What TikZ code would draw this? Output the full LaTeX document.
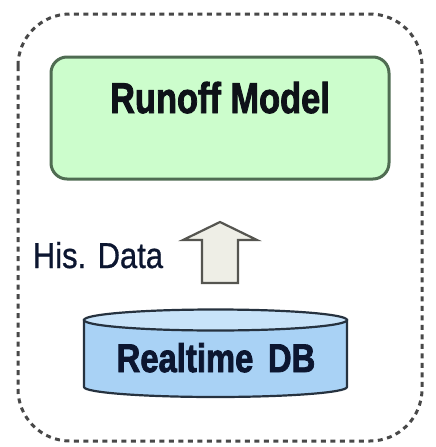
\documentclass[tikz,border=0pt]{standalone}
\usepackage{fontspec}
\setmainfont{Liberation Sans}
\newfontfamily\heavysans[FakeBold=2.2]{Liberation Sans Bold}
\newfontfamily\labelsans[FakeBold=0.8]{Liberation Sans}
\definecolor{modelfill}{HTML}{CCFDCC}
\definecolor{modeledge}{HTML}{4F6C52}
\definecolor{dbbody}{HTML}{A9D2F5}
\definecolor{dbtop}{HTML}{C8E3F9}
\definecolor{dbedge}{HTML}{26323F}
\definecolor{arrowfill}{HTML}{EEEEE6}
\definecolor{arrowedge}{HTML}{555550}
\definecolor{frameedge}{HTML}{484848}
\definecolor{inkdark}{HTML}{0E1218}
\definecolor{inknavy}{HTML}{0C1630}
\tikzset{
  frame/.style={draw=frameedge, line width=3pt, dash pattern=on 5pt off 4.5pt, rounded corners=52pt},
  modelbox/.style={draw=modeledge, fill=modelfill, line width=3pt, rounded corners=16pt},
  dbshape/.style={draw=dbedge, line width=2.2pt},
  flowarrow/.style={draw=arrowedge, fill=arrowfill, line width=2.2pt, line join=miter},
  title/.style={anchor=base, inner sep=0pt, text=inkdark, font=\heavysans\fontsize{43}{43}\selectfont},
  dbtitle/.style={anchor=base, inner sep=0pt, text=inknavy, font=\heavysans\fontsize{40}{40}\selectfont},
  sidelabel/.style={anchor=base, inner sep=0pt, text=inknavy, font=\labelsans\fontsize{36}{36}\selectfont},
}
\begin{document}
\begin{tikzpicture}[x=1pt, y=-1pt]
  \useasboundingbox (0,0) rectangle (436,447);

  % outer dashed boundary
  \draw[frame] (18,14) rectangle (422,441);

  % runoff model box
  \draw[modelbox] (51,57) rectangle (389,179);
  \node[title] (model) at (220,113) {\scalebox{0.8}[1]{Runoff Model}};

  % realtime database cylinder
  \draw[dbshape, fill=dbbody] (84,320) -- (84,387)
     arc[start angle=180, end angle=360, x radius=131.5pt, y radius=10pt]
     -- (347,320) -- cycle;
  \draw[dbshape, fill=dbtop] (215.5,320) ellipse[x radius=131.5pt, y radius=10.5pt];
  \node[dbtitle] (db) at (216,372) {\scalebox{0.82}[1]{Realtime\ \,DB}};

  % upward data flow arrow
  \coordinate (tip) at (220,222);
  \draw[flowarrow] (tip) -- (257,240) -- (238,240) -- (238,283)
     -- (202,283) -- (202,240) -- (183,240) -- cycle;
  \node[sidelabel] (his) at (98,268) {\scalebox{0.86}[1]{His. Data}};
\end{tikzpicture}
\end{document}
